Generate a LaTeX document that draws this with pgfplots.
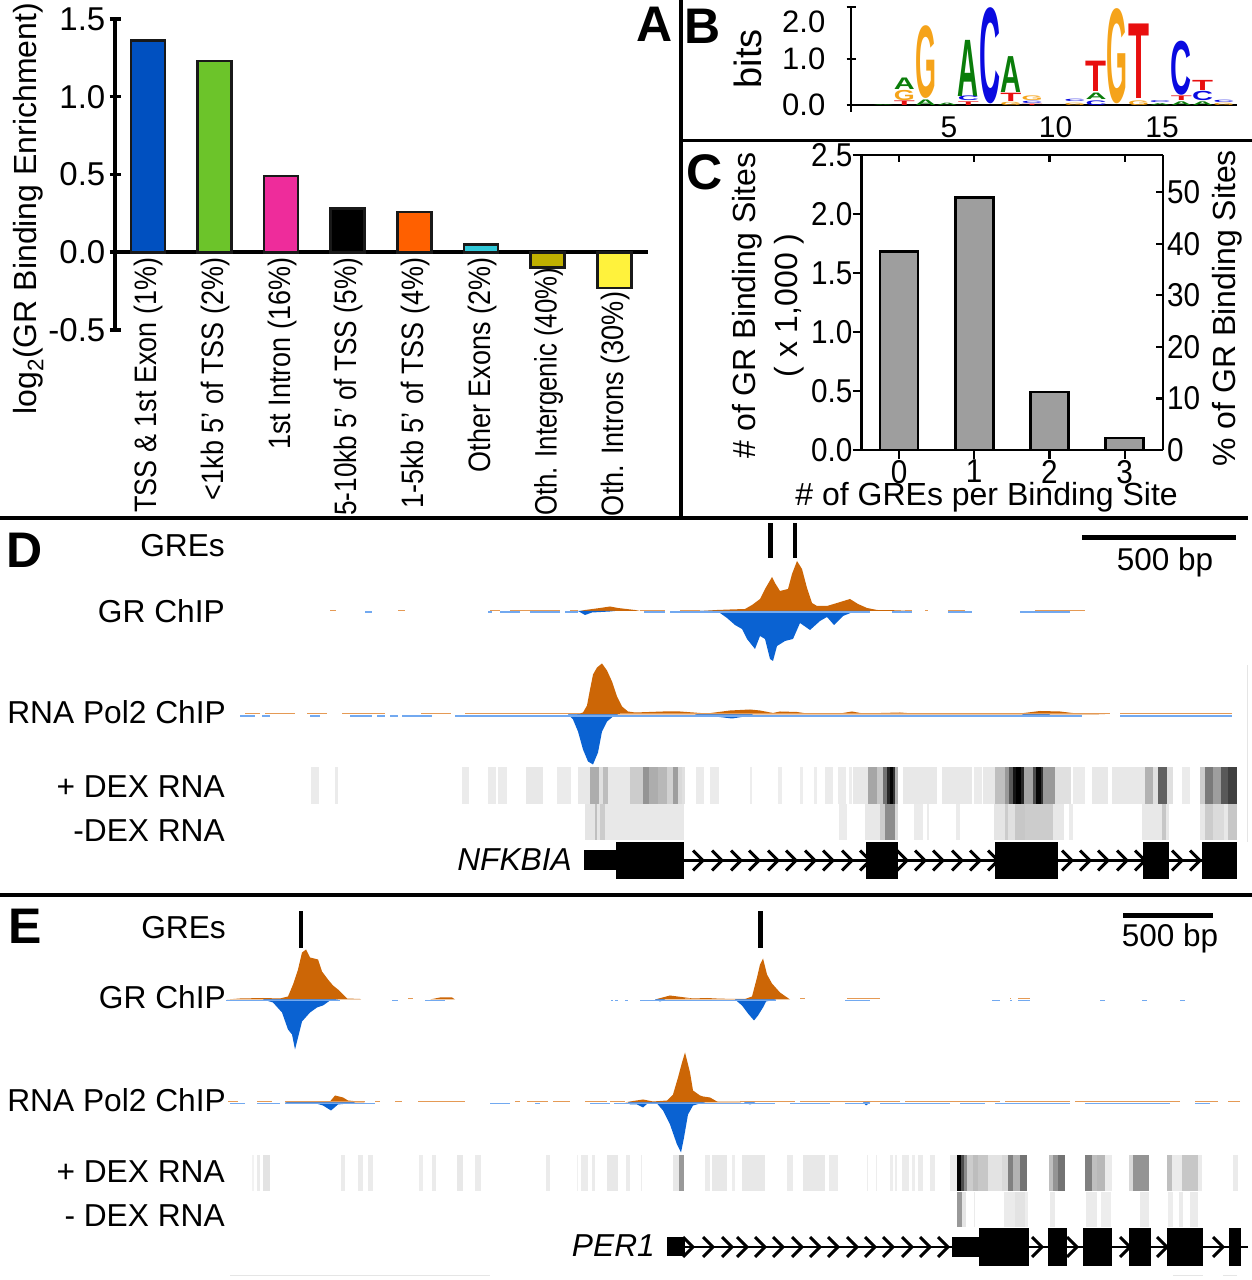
\documentclass[border=0pt]{standalone}
\usepackage{pgfplots}
\pgfplotsset{compat=1.18}
\usepackage{fontspec}
\setmainfont{Liberation Sans}

\definecolor{trkorange}{HTML}{CC6606}
\definecolor{trkblue}{HTML}{0A62D2}
\definecolor{thinorange}{HTML}{E59A55}
\definecolor{thinblue}{HTML}{72A9F0}
\definecolor{logoA}{HTML}{0A7D0A}
\definecolor{logoC}{HTML}{0A0AE0}
\definecolor{logoG}{HTML}{F5A31A}
\definecolor{logoT}{HTML}{E80F0F}
\definecolor{barblue}{HTML}{0050C0}
\definecolor{bargreen}{HTML}{6CC42A}
\definecolor{barpink}{HTML}{EE2C9B}
\definecolor{barorange}{HTML}{FF6000}
\definecolor{barcyan}{HTML}{30C8D8}
\definecolor{barolive}{HTML}{C0B000}
\definecolor{baryellow}{HTML}{FFF23C}

\newcommand\fs[1]{\fontsize{#1}{#1}\selectfont}
% the labels of panels A and C are narrower than the font
\newcommand\sq[2][0.87]{\scalebox{#1}[1]{#2}}

% chevrons on the gene models
\pgfdeclareplotmark{chev}{%
  \pgfpathmoveto{\pgfqpoint{-10pt}{10pt}}%
  \pgfpathlineto{\pgfqpoint{0pt}{0pt}}%
  \pgfpathlineto{\pgfqpoint{-10pt}{-10pt}}%
  \pgfusepathqstroke}

% thin segments: style, y, list a/b
\newcommand\segs[3]{\foreach \a/\b in {#3}{%
  \edef\tmp{\noexpand\addplot[#1,forget plot] coordinates {(\a,#2)(\b,#2)};}\tmp}}
% grey bands of the RNA strips: list x1/x2/grey
\newcommand\bands[1]{\foreach \a/\b/\g in {#1}{%
  \edef\tmp{\noexpand\addplot[fill=black!\g,draw=none,forget plot] coordinates {(\a,0)(\a,1)(\b,1)(\b,0)} --cycle;}\tmp}}
% exon boxes: list x1/x2/half height
\newcommand\exons[1]{\foreach \a/\b/\h in {#1}{%
  \edef\tmp{\noexpand\addplot[fill=black,draw=none,forget plot] coordinates {(\a,-\h)(\a,\h)(\b,\h)(\b,-\h)} --cycle;}\tmp}}
% logo letters: letter, colour, table rows
\newcommand\logo[3]{\addplot[only marks,mark size=0pt,
    visualization depends on={46*\thisrow{h} \as \hh},
    nodes near coords={\textcolor{#2}{\resizebox{21pt}{\hh pt}{\textbf{#1}}}},
    nodes near coords align={anchor=south},
    every node near coord/.append style={inner sep=0pt,outer sep=0pt}]
  table[x=x,y=y,row sep=\\] {x y h\\ #3};}

\pgfplotsset{
  pix/.style 2 args={at={(#1pt,{1280pt-#2pt})}},
  barA/.style={ybar,bar shift=0pt,bar width=34pt,draw=black!90,line width=2.6pt,fill=#1},
  track/.style={anchor=west,scale only axis,width=1252pt,height=200pt,
    xmin=0,xmax=1252,ymin=-100,ymax=100,hide axis,clip=false},
  strip/.style={anchor=north west,scale only axis,width=1252pt,height=#1,
    xmin=0,xmax=1252,ymin=0,ymax=1,hide axis,clip=false},
  orangeA/.style={fill=trkorange,draw=none,forget plot},
  % depths of the reverse strand are typed as positive numbers
  blueA/.style={fill=trkblue,draw=none,forget plot,y filter/.expression={-y}},
  thinO/.style={thinorange,line width=1.3pt},
  thinB/.style={thinblue,line width=1.5pt},
}

\begin{document}
\begin{tikzpicture}
\useasboundingbox (0,0) rectangle (1252pt,1280pt);

% panel A
\begin{axis}[pix={115}{330},anchor=south west,scale only axis,width=533pt,height=311pt,
    xmin=-0.495,xmax=7.507,ymin=-0.5,ymax=1.5,clip=false,
    axis y line=left,axis x line=middle,axis line style={-,line width=3.5pt},
    ytick={-0.5,0,0.5,1,1.5},yticklabels={-0.5,0.0,0.5,1.0,1.5},
    xtick={0,...,7},
    xticklabels={\sq{TSS \& 1st Exon (1\%)},\sq{<1kb 5' of TSS (2\%)},\sq{1st Intron (16\%)},\sq[0.845]{5-10kb 5' of TSS (5\%)},\sq{1-5kb 5' of TSS (4\%)},\sq{Other Exons (2\%)},\sq[0.833]{Oth. Intergenic (40\%)}\kern10pt,\sq[0.875]{Oth. Introns (30\%)}\kern34pt},
    /pgf/number format/assume math mode=true,
    major tick length=11pt,tick style={black,line width=3.5pt},
    x tick style={draw=none},
    yticklabel style={font=\fs{33},inner sep=0pt,xshift=-4pt},
    xticklabel style={font=\fs{31},rotate=90,anchor=east,inner sep=0pt,xshift=0pt,yshift=-1pt},
    ylabel={log\textsubscript{2}(GR Binding Enrichment)},
    ylabel style={font=\fs{32},at={(axis description cs:-0.163,0.39)},anchor=center},
  ]
  \addplot[barA=barblue] coordinates {(0,1.36)};
  \addplot[barA=bargreen] coordinates {(1,1.23)};
  \addplot[barA=barpink] coordinates {(2,0.49)};
  \addplot[barA=black] coordinates {(3,0.28)};
  \addplot[barA=barorange] coordinates {(4,0.26)};
  \addplot[barA=barcyan] coordinates {(5,0.05)};
  \addplot[barA=barolive] coordinates {(6,-0.10)};
  \addplot[barA=baryellow] coordinates {(7,-0.23)};
\end{axis}

% panel B, the logo
\begin{axis}[pix={851}{112},anchor=south west,scale only axis,width=386pt,height=105pt,
    xmin=0.493,xmax=18.615,ymin=-0.146,ymax=2.13,clip=false,
    axis y line=left,axis x line=middle,axis line style={-,line width=2.2pt},
    ytick={0,1,2.13},yticklabels={0.0,1.0,\raisebox{-26pt}[0pt][0pt]{2.0}},
    xtick={5,10,15},
    /pgf/number format/assume math mode=true,
    major tick length=9pt,tick style={black,line width=2pt},
    x tick style={draw=none},
    yticklabel style={font=\fs{31},inner sep=0pt,xshift=-21pt},
    xticklabel style={font=\fs{30},inner sep=0pt,yshift=-7pt,xshift=2pt},
    ylabel={bits},
    ylabel style={font=\fs{38},at={(axis description cs:-0.267,0.505)},anchor=center},
  ]
  \logo{A}{logoA}{4 0 0.12\\ 3 0.35 0.25\\ 5 0 0.05\\ 6 0.2 1.22\\ 8 0.27 0.78\\ 12 0.13 0.14\\ 16 0 0.08\\ 17 0 0.08\\ 2 0 0.02\\ 15 0 0.04\\}
  \logo{C}{logoC}{6 0.1 0.1\\ 7 0.03 2.06\\ 9 0.03 0.05\\ 11 0.08 0.05\\ 12 0 0.1\\ 16 0.22 1.16\\ 17 0.1 0.2\\ 15 0.05 0.04\\ 18 0.05 0.05\\}
  \logo{G}{logoG}{3 0.11 0.22\\ 4 0.14 1.56\\ 8 0 0.07\\ 9 0.1 0.1\\ 11 0 0.05\\ 13 0.04 2.04\\ 14 0 0.1\\ 18 0 0.05\\}
  \logo{T}{logoT}{3 0 0.1\\ 6 0 0.08\\ 8 0.08 0.18\\ 9 0 0.03\\ 12 0.3 0.66\\ 14 0.14 1.62\\ 16 0.1 0.1\\ 17 0.33 0.22\\}
\end{axis}

% panel C, counts
\begin{axis}[pix={861.5}{450},anchor=south west,scale only axis,width=301.5pt,height=295pt,
    xmin=-0.499,xmax=3.51,ymin=0,ymax=2.5,clip=false,
    axis y line*=left,axis x line*=bottom,axis line style={-,line width=2.4pt},
    ytick={0,0.5,1,1.5,2,2.5},yticklabels={\sq[0.9]{0.0},\sq[0.9]{0.5},\sq[0.9]{1.0},\sq[0.9]{1.5},\sq[0.9]{2.0},\sq[0.9]{2.5}},
    xtick={0,1,2,3},xticklabels={\sq[0.9]{0},\sq[0.9]{1},\sq[0.9]{2},\sq[0.9]{3}},
    /pgf/number format/assume math mode=true,
    tick align=outside,major tick length=9pt,tick style={black,line width=2.2pt},
    yticklabel style={font=\fs{33},inner sep=0pt,xshift=0pt},
    xticklabel style={font=\fs{33},inner sep=0pt,yshift=-1pt},
    xlabel={\# of GREs per Binding Site},
    xlabel style={font=\fs{32},at={(axis description cs:0.415,-0.16)},anchor=center},
    ylabel={\# of GR Binding Sites\\( x 1,000 )},
    ylabel style={font=\fontsize{32}{42}\selectfont,align=center,at={(axis description cs:-0.31,0.49)},anchor=center},
  ]
  \addplot[ybar,bar shift=0pt,bar width=38pt,draw=black,line width=2.6pt,fill=black!38] coordinates {(0,1.68)(1,2.14)(2,0.49)(3,0.10)};
\end{axis}
\begin{axis}[pix={861.5}{450},anchor=south west,scale only axis,width=301.5pt,height=295pt,
    xmin=-0.499,xmax=3.51,ymin=0,ymax=57.2,clip=false,
    axis y line*=right,axis x line*=top,axis line style={-,line width=2.4pt},
    ytick={0,10,...,50},yticklabels={\sq[0.9]{0},\sq[0.9]{10},\sq[0.9]{20},\sq[0.9]{30},\sq[0.9]{40},\sq[0.9]{50}},
    xtick={0,1,2,3},xticklabels={},
    /pgf/number format/assume math mode=true,
    tick align=inside,major tick length=7pt,tick style={black,line width=2.2pt},
    yticklabel style={font=\fs{33},inner sep=0pt,xshift=4pt},
    ylabel={\% of GR Binding Sites},
    ylabel style={font=\fs{32},at={(axis description cs:1.212,0.48)},anchor=center},
  ]
\end{axis}

% panel D
\begin{axis}[track,pix={0}{611}]
  \addplot[orangeA] coordinates {(580,0)(585,1)(600,3)(610,4.5)(618,3)(635,1)(640,0)} \closedcycle;
  \addplot[blueA] coordinates {(578,0)(585,4)(592,1.5)(610,0.5)(615,0)} \closedcycle;
  \addplot[orangeA] coordinates {(700,0)(717,1)(730,1.5)(745,2)(752,6)(760,12)(765,22)(772,34)(775,28)(780,20)(788,22)(792,37)(797,50)(802,42)(807,23)(812,8)(817,5)(827,5)(837,8)(850,12)(858,7)(867,3)(877,1)(897,0.7)(910,0)} \closedcycle;
  \addplot[blueA] coordinates {(700,0)(703,1)(720,2)(727,7)(735,14)(742,18)(747,28)(755,38)(760,25)(765,28)(770,48)(773,50)(777,35)(785,30)(793,28)(800,12)(810,19)(820,10)(827,6)(834,14)(843,5)(853,1)(870,0)} \closedcycle;
  \segs{thinO}{0.8}{330/336,398/405,490/500,510/560,570/578,640/665,680/700,905/912,925/928,948/965,1035/1085}
  \segs{thinB}{-0.8}{365/372,488/492,500/520,530/560,565/578,644/665,670/870,892/912,948/972,1020/1070}
  \addplot[black,line width=4.5pt,forget plot] coordinates {(770.7,53)(770.7,88)};
  \addplot[black,line width=4.5pt,forget plot] coordinates {(795,53)(795,88)};
\end{axis}
\begin{axis}[track,pix={0}{714.5}]
  \addplot[orangeA] coordinates {(577,0)(583,2)(587,9)(590,25)(593,40)(597,47)(602,51)(607,44)(612,33)(617,18)(622,8)(628,3)(635,2)(663,3)(680,3)(707,1)(730,4)(750,5)(760,4)(773,1.5)(780,3)(797,2.5)(807,1)(840,1)(852,3)(863,1)(900,2)(913,1)(1020,1)(1040,3.5)(1060,3)(1075,1.2)(1105,0)} \closedcycle;
  \addplot[blueA] coordinates {(568,0)(573,5)(578,17)(583,35)(588,47)(593,50)(598,38)(602,17)(607,7)(613,2)(618,0)} \closedcycle;
  \addplot[blueA] coordinates {(695,0)(700,1)(715,2)(732,4)(745,2)(753,0)} \closedcycle;
  \addplot[blueA] coordinates {(1022,0)(1030,2)(1045,2)(1050,0)} \closedcycle;
  \segs{thinO}{1}{245/260,265/295,307/327,342/385,421/451,465/580,620/1110,1120/1232}
  \segs{thinB}{-1.5}{240/255,262/270,310/320,350/372,377/385,390/398,402/432,455/1082,1120/1232}
\end{axis}
\begin{axis}[strip=37pt,pix={0}{767}]
  \bands{311/319/8,335/338/8,462/469/8,488/496/8,498/507/8,526/543/9,557/571/8,578/590/9,590/599/32,599/603/12,603/608/26,608/630/9,630/643/20,643/649/42,649/658/32,658/667/28,667/673/18,673/678/38,678/682/15,682/685/12,696/704/8,710/719/8,750/752/7,778/782/7,800/803/7,814/817/7,825/833/8,838/846/8,849/852/7,853/868/9,868/877/35,877/883/22,883/887/55,887/890/85,890/893/98,893/895/80,895/898/30,903/937/9,942/972/9,974/982/8,983/995/9,995/1005/25,1005/1009/40,1009/1013/65,1013/1016/92,1016/1021/100,1021/1024/85,1024/1033/35,1033/1036/70,1036/1041/98,1041/1043/80,1043/1055/40,1055/1071/12,1073/1085/8,1092/1108/9,1112/1145/9,1145/1153/30,1153/1158/12,1158/1167/62,1167/1173/12,1182/1190/8,1200/1205/20,1205/1213/52,1213/1221/38,1221/1228/65,1228/1237/75}
\end{axis}
\begin{axis}[strip=36pt,pix={0}{804}]
  \bands{585/595/10,595/597/25,597/600/10,600/605/20,605/684/9,839/847/8,865/880/9,880/885/20,885/895/45,895/898/15,914/923/8,927/929/8,956/960/8,994/1005/10,1005/1008/20,1008/1015/12,1015/1025/22,1025/1053/20,1053/1064/9,1069/1073/8,1142/1162/9,1162/1166/22,1166/1169/9,1200/1205/9,1205/1213/20,1213/1224/14,1224/1228/9,1228/1237/22}
\end{axis}
\begin{axis}[track,pix={0}{860.5}]
  \addplot[black,line width=2.5pt,forget plot] coordinates {(684,0)(1237,0)};
  \addplot[only marks,mark=chev,mark options={line width=3pt,black},forget plot] coordinates {(703,0)(722,0)(741,0)(759,0)(778,0)(796,0)(815,0)(833,0)(852,0)(870,0)(907,0)(925,0)(943,0)(962,0)(980,0)(998,0)(1072,0)(1090,0)(1108,0)(1127,0)(1145,0)(1182,0)(1200,0)};
  \exons{584/616/10,616/684/18.5,866/898/18.5,995/1058/18.5,1143/1169/18.5,1202/1237/18.5}
\end{axis}

% panel E
\begin{axis}[track,pix={0}{999.5}]
  \addplot[orangeA] coordinates {(227,0)(240,1)(263,1.5)(280,1)(288,3)(293,15)(298,30)(302,47)(306,50)(310,42)(318,40)(322,28)(328,20)(333,14)(338,10)(347,1)(360,0.5)(361,0)} \closedcycle;
  \addplot[blueA] coordinates {(263,0)(273,3)(282,13)(288,30)(292,35)(295,50)(298,38)(302,22)(310,13)(317,8)(323,6)(330,1)(338,0)} \closedcycle;
  \addplot[orangeA] coordinates {(430,0)(440,2)(452,2)(455,0)} \closedcycle;
  \addplot[orangeA] coordinates {(655,0)(670,4)(693,1)(707,1.5)(720,0.8)(745,0.5)(752,3)(757,22)(760,35)(763,41)(767,25)(772,16)(780,7)(790,0)} \closedcycle;
  \addplot[blueA] coordinates {(655,0)(660,2)(665,0)} \closedcycle;
  \addplot[blueA] coordinates {(735,0)(742,6)(748,14)(754,21)(758,16)(763,8)(766,2)(776,0)} \closedcycle;
  \segs{thinO}{0.8}{408/413,685/690,800/805,847/880,1010/1011,1018/1030}
  \segs{thinB}{-0.8}{226/340,392/398,425/445,611/613,615/618,625/628,640/776,845/870,992/1000,1010/1012,1018/1030,1100/1105,1142/1147,1180/1185}
  \addplot[black,line width=4.5pt,forget plot] coordinates {(301,51.5)(301,88.5)};
  \addplot[black,line width=4.5pt,forget plot] coordinates {(760.7,51.5)(760.7,88.5)};
\end{axis}
\begin{axis}[track,pix={0}{1102.5}]
  \addplot[orangeA] coordinates {(285,0)(290,1)(330,1)(335,7)(343,5)(348,2)(363,0.5)(365,0)} \closedcycle;
  \addplot[blueA] coordinates {(285,0)(290,1)(316,1)(323,3)(331,8)(338,2)(353,0.5)(355,0)} \closedcycle;
  \addplot[orangeA] coordinates {(625,0)(630,1)(643,3)(653,1)(667,2)(673,8)(678,25)(682,40)(685,50)(690,30)(693,12)(700,7)(703,6)(710,5)(717,1)(740,0.8)(741,0)} \closedcycle;
  \addplot[blueA] coordinates {(628,0)(630,2)(637,2)(643,5)(648,0.5)(657,1)(663,8)(670,22)(677,42)(681,50)(684,35)(688,12)(693,3)(700,1)(705,0)} \closedcycle;
  \addplot[blueA] coordinates {(744,0)(750,2)(755,0)} \closedcycle;
  \addplot[blueA] coordinates {(863,0)(866,3)(870,0)} \closedcycle;
  \segs{thinO}{1}{228/238,257/272,285/365,375/380,395/402,418/465,515/520,527/548,553/570,585/607,610/625,740/795,800/900,905/1000,1005/1070,1075/1180,1195/1218,1228/1240}
  \segs{thinB}{-1}{230/245,257/280,285/375,490/510,535/540,590/610,614/775,790/830,845/870,880/950,960/985,995/1070,1085/1170,1195/1210}
\end{axis}
\begin{axis}[strip=36pt,pix={0}{1155}]
  \bands{252/254/5,257/260/8,263/270/11,341/345/8,358/363/8,368/373/8,419/423/7,432/436/8,457/463/9,475/481/8,546/550/8,577/578/6,581/588/8,592/595/8,607/618/9,626/630/8,641/642/7,673/679/9,679/684/40,705/710/8,712/727/9,732/735/7,742/765/9,787/793/8,803/825/9,829/838/8,867/868/7,876/877/7,890/893/7,895/897/7,902/909/8,912/915/7,918/923/8,930/935/8,950/957/8,957/961/100,961/964/70,964/967/45,967/973/20,973/978/26,978/988/22,988/1002/11,1002/1008/15,1008/1013/50,1013/1020/30,1020/1027/55,1049/1053/25,1053/1058/42,1058/1065/55,1085/1092/50,1092/1097/25,1097/1105/28,1105/1112/8,1129/1133/15,1133/1149/42,1167/1172/25,1172/1182/8,1182/1198/22,1198/1202/8,1233/1238/8}
\end{axis}
\begin{axis}[strip=35pt,pix={0}{1192}]
  \bands{957/962/40,962/966/10,974/975/8,1004/1015/8,1015/1025/11,1025/1028/7,1050/1055/8,1086/1097/8,1101/1111/7,1140/1149/8,1168/1173/7,1179/1183/8,1190/1198/8}
\end{axis}
\begin{axis}[track,pix={0}{1247}]
  \addplot[black,line width=2.5pt,forget plot] coordinates {(685,0)(1248,0)};
  \addplot[only marks,mark=chev,mark options={line width=3pt,black},forget plot] coordinates {(693,0)(713,0)(732,0)(747,0)(765,0)(783,0)(802,0)(820,0)(838,0)(857,0)(875,0)(893,0)(912,0)(930,0)(948,0)(1042,0)(1077,0)(1130,0)(1167,0)(1223,0)};
  \exons{667/685/9.5,952/979/10,979/1029/19,1048/1067/19,1083/1112/19,1129/1151/19,1167/1203/19,1229/1241/19}
\end{axis}

% rules, scale bars and labels, in picture pixels from the top left
\begin{scope}[shift={(0pt,1280pt)},x=1pt,y=-1pt]
\draw[line width=3.2pt] (681,0)--(681,518) (681,140.5)--(1252,140.5) (0,518)--(1248,518) (0,895)--(1252,895);
\draw[black!10,line width=1pt] (1247,665)--(1247,842) (230,1276)--(490,1276) (1173,1276)--(1203,1276) (1223,1276)--(1237,1276);
\draw[line width=4.5pt] (1082,537.7)--(1236,537.7);
\draw[line width=4.5pt] (1123,915.7)--(1213,915.7);
\tikzset{lab/.style={anchor=east,inner sep=0pt,font=\fs{31.7}},ctr/.style={anchor=center,inner sep=0pt,font=\fs{31.5}},
  pan/.style={anchor=center,inner sep=0pt,font=\fs{50}\bfseries}}
\node[lab] at (225,546) {GREs};
\node[lab] at (225,611) {GR ChIP};
\node[lab] at (226,712) {RNA Pol2 ChIP};
\node[lab] at (225,787) {+ DEX RNA};
\node[lab] at (225,831) {-DEX RNA};
\node[lab] at (572,860) {\itshape NFKBIA};
\node[lab] at (226,928) {GREs};
\node[lab] at (226,997) {GR ChIP};
\node[lab] at (226,1100) {RNA Pol2 ChIP};
\node[lab] at (225,1172) {+ DEX RNA};
\node[lab] at (225,1216) {- DEX RNA};
\node[lab] at (655,1246) {\itshape PER1};
\node[ctr] at (1165,562) {500 bp};
\node[ctr] at (1170,938) {500 bp};
\node[pan] at (655,24) {A};
\node[pan] at (703,26) {B};
\node[pan] at (705,172) {C};
\node[pan] at (25,550) {D};
\node[pan] at (25,926) {E};
\end{scope}
\end{tikzpicture}
\end{document}
